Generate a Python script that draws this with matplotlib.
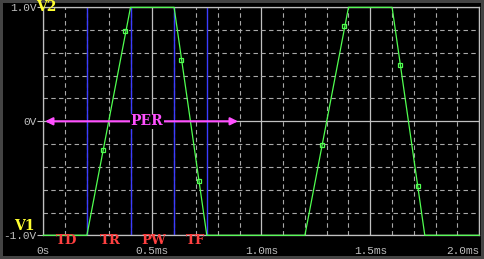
import matplotlib
matplotlib.use("Agg")
from matplotlib import pyplot as plt
from matplotlib.ticker import MultipleLocator

# pulse waveform (ms, V)
pulse_t = [0.0, 0.2, 0.4, 0.6, 0.75, 1.2, 1.4, 1.6, 1.75, 2.0]
pulse_v = [-1, -1, 1, 1, -1, -1, 1, 1, -1, -1]

# marker points on the trace
mark_t = [0.275, 0.376, 0.633, 0.716, 1.28, 1.381, 1.638, 1.72]
mark_v = [-0.25, 0.79, 0.537, -0.52, -0.21, 0.835, 0.493, -0.57]

# cursor lines and their labels
cursor_t = [0.2, 0.4, 0.6, 0.75]
param_names = ["TD", "TR", "PW", "TF"]
param_pos = [0.107, 0.306, 0.508, 0.70]

xticks = [0.0, 0.5, 1.0, 1.5, 2.0]
xlabels = ["0s", "0.5ms", "1.0ms", "1.5ms", "2.0ms"]
yticks = [-1.0, 0.0, 1.0]
ylabels = ["-1.0V", "0V", "1.0V"]

GRAY = "#c0c0c0"
GREEN = "#50ff50"
BLUE = "#3c3cff"
RED = "#ff4040"
YELLOW = "#ffff30"
MAGENTA = "#ff50ff"

fig = plt.figure(figsize=(4.84, 2.59), dpi=100)
fig.patch.set_facecolor("black")
fig.patch.set_edgecolor("#444444")
fig.patch.set_linewidth(3.0)

ax = fig.add_axes([43.3 / 484, (259 - 235.3) / 259, 436 / 484, 228 / 259])
ax.set_facecolor("black")
ax.set_xlim(0, 2.0)
ax.set_ylim(-1.0, 1.0)

ax.xaxis.set_major_locator(MultipleLocator(0.5))
ax.xaxis.set_minor_locator(MultipleLocator(0.1))
ax.yaxis.set_minor_locator(MultipleLocator(0.2))
ax.set_xticks(xticks)
ax.set_yticks(yticks)
ax.grid(which="major", color=GRAY, lw=0.9, ls="-")
ax.grid(which="minor", color="#a8a8a8", lw=0.8, ls=(0, (4, 3)))
ax.set_axisbelow(True)

mono = "Liberation Mono"
ax.set_xticklabels(xlabels, family=mono, fontsize=8, color=GRAY)
ax.set_yticklabels(ylabels, family=mono, fontsize=8, color=GRAY)
ax.get_xticklabels()[-1].set_horizontalalignment("right")
ax.tick_params(axis="x", which="both", length=0, pad=7.5)
ax.tick_params(axis="y", which="major", length=4, color=GRAY, pad=1)
ax.tick_params(axis="y", which="minor", length=0)
for s in ax.spines.values():
    s.set_color(GRAY)
    s.set_linewidth(0.9)

for t in cursor_t:
    ax.axvline(t, color=BLUE, lw=1.0, zorder=2)

ax.plot(pulse_t, pulse_v, color=GREEN, lw=0.9, zorder=3, clip_on=False)
ax.plot(mark_t, mark_v, ls="none", marker="s", ms=3.4, mfc="none",
        mec=GREEN, mew=0.9, zorder=4)

lbl = dict(family="DejaVu Serif", fontweight="bold", fontsize=10,
           ha="center", va="center", clip_on=False, zorder=6)
ax.text(0.012, 1.0, "V2", color=YELLOW, **lbl)
ax.text(-0.086, -0.917, "V1", color=YELLOW, **lbl)
for name, p in zip(param_names, param_pos):
    ax.text(p, -1.045, name, color=RED,
            **{**lbl, "fontsize": 9.5})

ax.annotate("", xy=(0.008, 0), xytext=(0.893, 0),
            arrowprops=dict(arrowstyle="<|-|>", color=MAGENTA, lw=1.5,
                            mutation_scale=11, shrinkA=0, shrinkB=0), zorder=5)
ax.text(0.474, 0, "PER", color=MAGENTA,
        bbox=dict(facecolor="black", edgecolor="none", pad=0.5), **lbl)

fig.savefig("out.png", dpi=100, facecolor=fig.get_facecolor(),
            edgecolor=fig.get_edgecolor())
